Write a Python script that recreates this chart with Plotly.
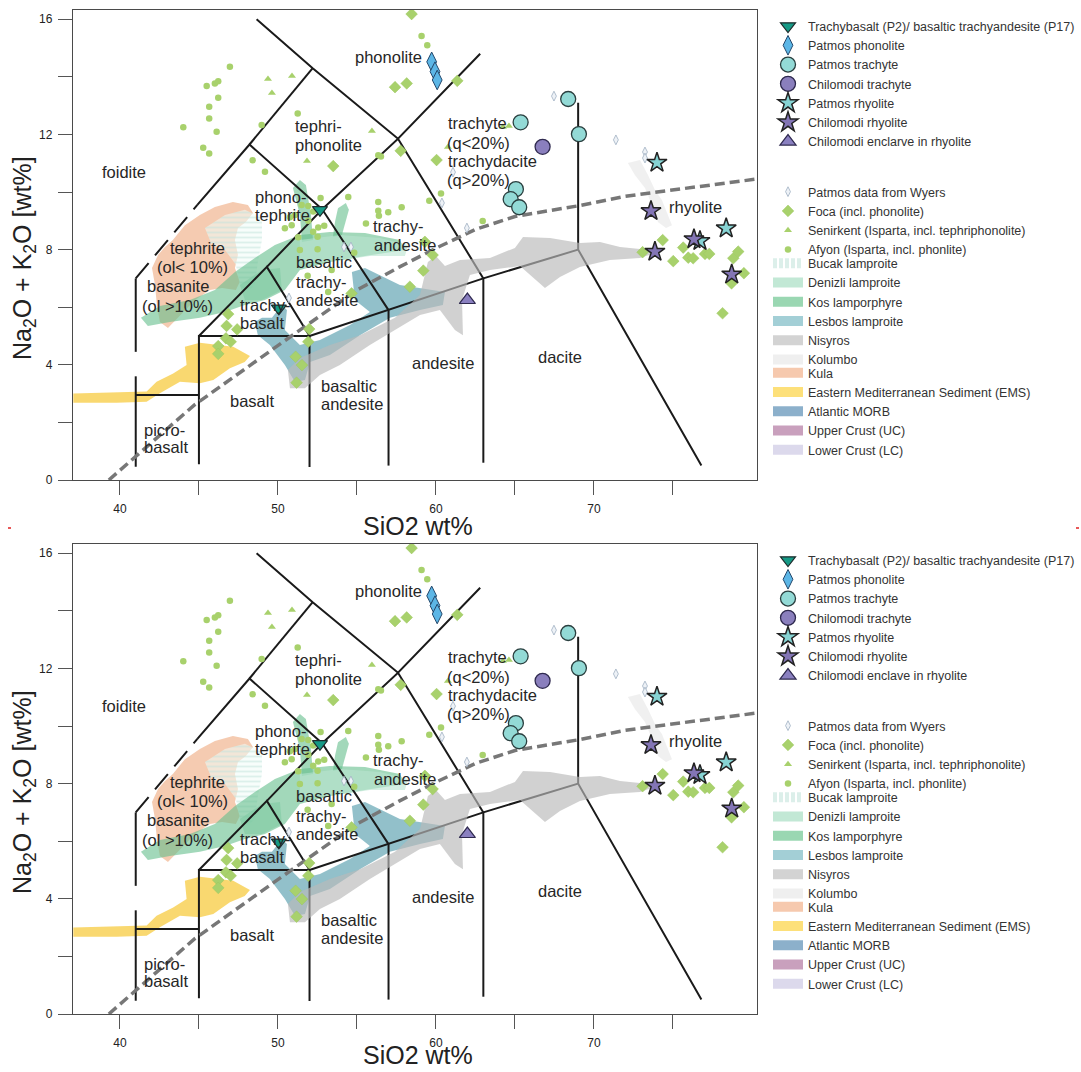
import plotly.graph_objects as go

FIG_W, FIG_H = 1081, 1072
FONT = "Liberation Sans, Arial, sans-serif"

# ---------------- samples (SiO2 wt%, Na2O+K2O wt%) ----------------
p2_si = [52.66, 50.06]
p2_alk = [9.38, 5.96]
pat_phon_si = [59.73, 59.94, 60.08]
pat_phon_alk = [14.52, 14.18, 13.89]
pat_trach_si = [65.36, 68.37, 69.05, 65.06, 64.73, 65.27]
pat_trach_alk = [12.42, 13.23, 12.01, 10.10, 9.75, 9.47]
chil_trach_si = [66.75]
chil_trach_alk = [11.57]
pat_rhy_si = [73.99, 78.37, 76.71]
pat_rhy_alk = [11.02, 8.74, 8.30]
chil_rhy_si = [73.61, 76.33, 73.86, 78.72]
chil_rhy_alk = [9.34, 8.36, 7.93, 7.14]
encl_si = [61.99]
encl_alk = [6.25]

# ---------------- literature data ----------------
wyers_si = [67.47, 71.39, 73.23, 73.23, 60.38, 61.08, 61.96, 54.18, 54.62, 50.70]
wyers_alk = [13.33, 11.81, 11.39, 11.18, 9.62, 10.69, 8.75, 8.09, 8.09, 6.32]
foca_si = [58.46, 57.41, 58.15, 61.35, 53.50, 57.77, 60.04, 59.30, 59.79, 59.20, 58.35,
           46.85, 46.75, 47.42, 46.71, 47.01, 46.22, 46.22, 51.98, 51.92, 51.12, 51.52,
           51.18, 54.66, 74.35, 73.08, 75.65, 75.97, 76.28, 75.02, 77.03, 77.30, 78.82,
           79.13, 79.49, 78.71, 78.14]
foca_alk = [16.18, 13.64, 13.77, 13.86, 10.90, 11.43, 11.11, 8.27, 7.81, 7.27, 6.71,
            5.76, 5.35, 5.23, 4.92, 4.80, 4.65, 4.38, 5.24, 4.80, 4.28, 3.99,
            3.38, 6.48, 8.33, 7.91, 8.07, 7.72, 7.70, 7.60, 7.85, 7.85, 7.70,
            7.93, 7.18, 6.83, 5.79]
seni_si = [49.37, 50.89, 49.62, 55.95, 51.84, 64.24, 64.62, 60.76]
seni_alk = [13.92, 14.03, 13.44, 12.12, 11.08, 12.26, 12.29, 11.56]
afyon_si = [46.96, 45.49, 46.01, 46.22, 46.22, 45.65, 45.65, 46.12, 44.01, 45.27, 45.65,
            48.97, 51.25, 48.40, 49.18, 52.70, 54.45, 56.35, 56.35, 56.98, 56.35, 56.52,
            51.50, 51.92, 52.23, 51.08, 50.76, 51.92, 50.87, 50.44, 52.55, 52.93, 52.51,
            51.28, 51.39, 52.51, 54.83, 51.88, 53.18, 53.40, 56.39, 57.83, 55.57, 59.58,
            60.32, 52.23, 62.96, 59.09, 59.45]
afyon_alk = [14.35, 13.68, 13.77, 13.85, 13.27, 12.96, 12.55, 12.09, 12.25, 11.54, 11.34,
             12.33, 12.73, 11.10, 10.70, 9.79, 9.83, 9.65, 9.35, 9.30, 11.28, 11.23,
             9.55, 9.51, 9.32, 9.20, 9.12, 9.00, 8.85, 8.74, 8.77, 8.83, 8.45,
             8.43, 7.99, 8.01, 7.89, 7.09, 6.53, 7.29, 9.18, 9.47, 8.91, 9.70,
             9.95, 8.62, 8.99, 15.42, 15.10]

# ---------------- comparison fields (outlines) ----------------
ems_si = [37.05, 38.73, 40.84, 41.69, 42.32, 43.37, 44.22, 44.11, 45.06, 47.17, 48.23,
          47.90, 46.96, 45.91, 45.06, 43.80, 42.53, 41.69, 39.79, 37.05]
ems_alk = [3.00, 3.03, 3.06, 3.07, 3.41, 3.70, 3.99, 4.63, 4.77, 4.63, 4.31,
           4.10, 3.88, 3.47, 3.36, 3.41, 3.01, 2.72, 2.68, 2.68]
kula_si = [43.35, 44.11, 45.06, 46.01, 47.15, 48.10, 48.42, 47.97, 47.47, 47.28, 47.47,
           47.28, 47.59, 47.34, 46.46, 45.70, 44.75, 43.80, 43.04, 42.53, 42.34, 42.22,
           42.03, 42.41, 42.85]
kula_alk = [8.33, 8.85, 9.20, 9.48, 9.65, 9.55, 9.27, 8.96, 8.75, 8.33, 7.81,
            7.36, 6.88, 6.60, 6.67, 6.60, 6.25, 5.73, 5.28, 5.49, 6.08, 6.77,
            7.36, 7.81, 8.09]
bucak_si = [45.38, 46.65, 47.91, 48.99, 48.99, 48.73, 48.54, 48.10, 47.59, 47.34, 46.65, 45.82]
bucak_alk = [8.75, 9.20, 9.38, 9.10, 8.33, 7.57, 6.77, 6.53, 6.77, 7.47, 7.99, 8.16]
deniz1_si = [51.39, 53.92, 56.46, 58.23, 58.04, 55.82, 53.29, 51.39]
deniz1_alk = [8.33, 8.51, 8.40, 8.16, 7.78, 7.78, 7.57, 7.57]
deniz2_si = [47.59, 48.99, 50.13, 50.25, 48.99, 47.91]
deniz2_alk = [6.77, 7.29, 7.36, 6.60, 6.25, 6.25]
kos1_si = [41.33, 42.53, 44.43, 46.01, 47.28, 48.54, 49.81, 51.39, 53.29, 55.51, 57.72,
           58.04, 55.51, 53.29, 51.39, 50.44, 49.18, 47.91, 46.65, 45.06, 43.16, 41.77]
kos1_alk = [5.63, 6.04, 6.25, 6.60, 7.22, 7.71, 8.16, 8.51, 8.61, 8.58, 8.33,
            7.99, 7.78, 7.57, 7.29, 6.60, 6.25, 6.08, 5.83, 5.63, 5.49, 5.35]
kos2_si = [50.95, 51.39, 51.77, 52.09, 52.22, 51.52, 51.39]
kos2_alk = [10.14, 10.42, 10.24, 9.20, 8.33, 8.26, 9.20]
kos3_si = [53.80, 54.30, 54.49, 54.05, 53.48, 53.61]
kos3_alk = [9.44, 9.62, 9.38, 8.51, 8.44, 8.96]
lesbos_si = [48.54, 48.99, 49.62, 50.25, 50.57, 50.44, 51.39, 52.66, 54.56, 55.82, 54.87,
             54.68, 55.51, 57.72, 60.57, 60.44, 58.99, 57.09, 55.19, 53.29, 52.03, 51.71,
             51.08, 50.44, 49.49, 48.73]
lesbos_alk = [5.49, 5.63, 5.63, 6.08, 5.90, 5.21, 4.69, 4.86, 5.38, 5.83, 6.25,
              7.22, 7.36, 6.77, 6.53, 6.08, 5.90, 5.63, 5.03, 4.34, 4.10, 3.47,
              3.40, 3.99, 4.69, 5.03]
nisyros_si = [50.76, 50.63, 51.39, 53.29, 55.19, 57.41, 58.99, 59.49, 60.00, 60.57, 61.52,
              63.42, 65.00, 65.51, 67.22, 69.11, 70.38, 71.65, 72.91, 73.86, 72.91, 71.01,
              69.11, 67.85, 66.90, 66.46, 65.32, 63.42, 62.15, 61.65, 61.71, 61.20, 60.25,
              58.99, 57.41, 55.82, 53.92, 52.66, 51.71]
nisyros_alk = [3.19, 3.82, 4.24, 4.69, 5.03, 5.63, 6.42, 7.57, 7.78, 7.43, 7.64,
               7.71, 8.06, 8.44, 8.40, 8.23, 8.26, 8.09, 8.02, 7.88, 7.71, 7.64,
               7.40, 7.05, 6.67, 6.88, 7.43, 7.29, 7.12, 6.25, 5.03, 5.21, 5.90,
               5.73, 5.21, 4.69, 3.99, 3.65, 3.19]
kolumbo_si = [72.15, 72.91, 73.42, 73.86, 74.30, 74.68, 74.94, 74.56, 74.05, 73.67, 73.23, 72.59]
kolumbo_alk = [11.01, 11.11, 10.59, 10.07, 9.72, 9.20, 8.85, 8.75, 8.96, 9.55, 10.14, 10.59]

# ---------------- TAS classification grid ----------------
tas_si = [41, 41, None, 41, 41, None, 41, 45, None,
          45, 45, 52, 52, None, 45, 49.3, 52, None,
          52, 57, 63, 69, 76.8, None, 57, 57, None, 63, 63, None, 69, 69, None,
          49.3, 52.8, 57, None, 52.8, 57.6, 63, None,
          44.9, 48.2, 52.8, None, 48.2, 52.2, None,
          48.65, 52.2, 57.6, 62.8]
tas_alk = [0.46, 3.6, None, 4.45, 7.0, None, 2.95, 2.95, None,
           0.55, 5, 5, 0.45, None, 5, 7.4, 5, None,
           5, 5.9, 7, 8, 0.5, None, 5.9, 0.5, None, 7, 0.6, None, 8, 13.1, None,
           7.4, 9.4, 5.9, None, 9.4, 11.85, 7, None,
           9.55, 11.65, 9.4, None, 11.65, 14.3, None,
           16.0, 14.3, 11.85, 14.8]
foid_si = [41, 44.9]
foid_alk = [7.0, 9.55]
# alkaline / subalkaline divide
div_si = [39.3, 44.7, 49.9, 55.0, 57.7, 60.0, 62.5, 65.0, 69.0, 72.0, 74.0, 76.0, 80.3]
div_alk = [0.0, 2.6, 4.63, 6.6, 7.4, 8.05, 8.7, 9.15, 9.52, 9.85, 10.0, 10.15, 10.45]

# field names: (text, SiO2 at left edge, alkali at line centre)
field_labels = [
    ("foidite", 38.73, 10.70), ("phonolite", 54.77, 14.70),
    ("tephri-", 50.97, 12.29), ("phonolite", 50.97, 11.63),
    ("phono-", 48.44, 9.84), ("tephrite", 48.44, 9.20),
    ("tephrite", 43.06, 8.05), ("(ol< 10%)", 42.22, 7.41),
    ("basanite", 41.58, 6.74), ("(ol >10%)", 41.27, 6.04),
    ("trachy-", 47.45, 6.08), ("basalt", 47.49, 5.44),
    ("basaltic", 51.03, 7.58), ("trachy-", 51.03, 6.89), ("andesite", 51.03, 6.25),
    ("trachy-", 55.89, 8.82), ("andesite", 55.93, 8.16),
    ("trachyte", 60.65, 12.41), ("(q<20%)", 60.60, 11.71),
    ("trachydacite", 60.65, 11.09), ("(q>20%)", 60.60, 10.42),
    ("basalt", 46.85, 2.75), ("picro-", 41.37, 1.74), ("basalt", 41.37, 1.14),
    ("basaltic", 52.61, 3.26), ("andesite", 52.61, 2.63),
    ("andesite", 58.35, 4.05), ("dacite", 66.33, 4.26), ("rhyolite", 74.60, 9.47),
]

X_RANGE = [37.03, 80.32]
Y_RANGE = [0, 16.32]
X_TICKS = [40, 45, 50, 55, 60, 65, 70, 75]
X_TICKTEXT = ["40", " ", "50", " ", "60", " ", "70", " "]
Y_TICKS = [0, 2, 4, 6, 8, 10, 12, 14, 16]
Y_TICKTEXT = ["0", " ", "4", " ", "8", " ", "12", " ", "16"]

GREEN = "#a8d16c"

fig = go.Figure()


def add_panel(xa, ya, legs, enclave_name):
    common = dict(xaxis=xa, yaxis=ya, hoverinfo="skip")
    # filled comparison fields
    fills = [
        (ems_si, ems_alk, "rgba(248,208,80,0.82)", None),
        (kula_si, kula_alk, "rgba(240,178,140,0.68)", None),
        (bucak_si, bucak_alk, "rgba(240,250,247,0.55)", "bucak"),
        (deniz2_si, deniz2_alk, "rgba(170,222,198,0.6)", None),
        (kos1_si, kos1_alk, "rgba(100,190,140,0.6)", None),
        (kos2_si, kos2_alk, "rgba(100,190,140,0.6)", None),
        (kos3_si, kos3_alk, "rgba(100,190,140,0.6)", None),
        (deniz1_si, deniz1_alk, "rgba(185,228,208,0.6)", None),
        (lesbos_si, lesbos_alk, "rgba(90,160,175,0.66)", None),
    ]
    for xs, ys, col, kind in fills:
        kw = {}
        if kind == "bucak":
            kw["fillpattern"] = dict(shape="-", fgcolor="#c2e4dc", size=5, solidity=0.35)
        fig.add_trace(go.Scatter(x=xs, y=ys, fill="toself", fillcolor=col, mode="lines",
                                 line=dict(width=0), showlegend=False, **kw, **common))
    # classification lines
    fig.add_trace(go.Scatter(x=tas_si, y=tas_alk, mode="lines",
                             line=dict(color="#1a1a1a", width=2), showlegend=False, **common))
    fig.add_trace(go.Scatter(x=foid_si, y=foid_alk, mode="lines",
                             line=dict(color="#1a1a1a", width=2, dash="20px,10px"),
                             showlegend=False, **common))
    # fields drawn over the grid
    fig.add_trace(go.Scatter(x=nisyros_si, y=nisyros_alk, fill="toself",
                             fillcolor="rgba(185,185,185,0.66)", mode="lines",
                             line=dict(width=0), showlegend=False, **common))
    fig.add_trace(go.Scatter(x=kolumbo_si, y=kolumbo_alk, fill="toself",
                             fillcolor="rgba(233,233,233,0.7)", mode="lines",
                             line=dict(width=0), showlegend=False, **common))
    fig.add_trace(go.Scatter(x=div_si, y=div_alk, mode="lines",
                             line=dict(color="#777777", width=3.5, dash="10px,5px"),
                             showlegend=False, **common))

    # literature data
    lit = [
        ("Patmos data from Wyers", wyers_si, wyers_alk,
         dict(symbol="diamond-tall", size=7, color="#eef2f7", line=dict(color="#9fb0c2", width=0.8))),
        ("Foca (incl. phonolite)", foca_si, foca_alk,
         dict(symbol="diamond", size=9, color=GREEN, line=dict(color="#9cc65f", width=0.5))),
        ("Senirkent (Isparta, incl. tephriphonolite)", seni_si, seni_alk,
         dict(symbol="triangle-up", size=7, color=GREEN, line=dict(width=0))),
        ("Afyon (Isparta, incl. phonlite)", afyon_si, afyon_alk,
         dict(symbol="circle", size=6.5, color=GREEN, line=dict(width=0))),
    ]
    for name, xs, ys, mk in lit:
        fig.add_trace(go.Scatter(x=xs, y=ys, mode="markers", marker=mk, name=name,
                                 legend=legs[1], **common))

    # studied samples
    samples = [
        ("Trachybasalt (P2)/ basaltic trachyandesite (P17)", p2_si, p2_alk,
         dict(symbol="triangle-down", size=13, color="#159a86", line=dict(color="#1d2b2b", width=1.2))),
        ("Patmos phonolite", pat_phon_si, pat_phon_alk,
         dict(symbol="diamond-tall", size=14, color="#5cb6e6", line=dict(color="#23476b", width=1))),
        ("Patmos trachyte", pat_trach_si, pat_trach_alk,
         dict(symbol="circle", size=15, color="#93dad6", line=dict(color="#2a3f3f", width=1.3))),
        ("Chilomodi trachyte", chil_trach_si, chil_trach_alk,
         dict(symbol="circle", size=15, color="#8a7fbd", line=dict(color="#2f2a4f", width=1.3))),
        ("Patmos rhyolite", pat_rhy_si, pat_rhy_alk,
         dict(symbol="star", size=15, color="#86d3d3", line=dict(color="#222222", width=1.5))),
        ("Chilomodi rhyolite", chil_rhy_si, chil_rhy_alk,
         dict(symbol="star", size=15, color="#8375b5", line=dict(color="#222222", width=1.5))),
        (enclave_name, encl_si, encl_alk,
         dict(symbol="triangle-up", size=14, color="#8a80c0", line=dict(color="#2f2a4f", width=1.2))),
    ]
    for name, xs, ys, mk in samples:
        fig.add_trace(go.Scatter(x=xs, y=ys, mode="markers", marker=mk, name=name,
                                 legend=legs[0], **common))

    # legend keys for the comparison fields
    keys = [
        ("Bucak lamproite", "#dcefea", "4px,2px", legs[2]),
        ("Denizli lamproite", "#c2e8d5", None, legs[2]),
        ("Kos lamporphyre", "#9ad7b2", None, legs[2]),
        ("Lesbos lamproite", "#a3cfd6", None, legs[2]),
        ("Nisyros", "#d3d3d3", None, legs[2]),
        ("Kolumbo", "#efefef", None, legs[2]),
        ("Kula", "#f6c9ae", None, legs[3]),
        ("Eastern Mediterranean Sediment (EMS)", "#fde07a", None, legs[3]),
        ("Atlantic MORB", "#8cb0cb", None, legs[3]),
        ("Upper Crust (UC)", "#c9a0bd", None, legs[3]),
        ("Lower Crust (LC)", "#dcd9ec", None, legs[3]),
    ]
    for name, col, dash, lg in keys:
        ln = dict(color=col, width=10)
        if dash:
            ln["dash"] = dash
        fig.add_trace(go.Scatter(x=[None], y=[None], mode="lines", line=ln, name=name,
                                 legend=lg, **common))


add_panel("x", "y", ["legend", "legend2", "legend3", "legend4"],
          "Chilomodi enclarve in rhyolite")
add_panel("x2", "y2", ["legend5", "legend6", "legend7", "legend8"],
          "Chilomodi enclave in rhyolite")


def py(px):
    return 1 - px / FIG_H


axis_common = dict(showgrid=False, zeroline=False, showline=True, mirror=True,
                   linecolor="#4a4a4a", linewidth=1.3, ticks="outside", ticklen=14,
                   tickcolor="#555555", tickwidth=1, ticklabelstandoff=3,
                   tickfont=dict(size=12, color="#222222", family=FONT))
xdom = [73 / FIG_W, 757 / FIG_W]
layout = dict(
    width=FIG_W, height=FIG_H,
    margin=dict(l=0, r=0, t=0, b=0, autoexpand=False),
    paper_bgcolor="white", plot_bgcolor="white",
    font=dict(family=FONT, color="#333333"),
    xaxis=dict(domain=xdom, range=X_RANGE, tickvals=X_TICKS, ticktext=X_TICKTEXT,
               anchor="y", **axis_common),
    yaxis=dict(domain=[py(480), py(10)], range=Y_RANGE, tickvals=Y_TICKS,
               ticktext=Y_TICKTEXT, anchor="x", **axis_common),
    xaxis2=dict(domain=xdom, range=X_RANGE, tickvals=X_TICKS, ticktext=X_TICKTEXT,
                anchor="y2", **axis_common),
    yaxis2=dict(domain=[py(1014), py(544)], range=Y_RANGE, tickvals=Y_TICKS,
                ticktext=Y_TICKTEXT, anchor="x2", **axis_common),
    showlegend=True,
)

# legend blocks: first-row centre (px) and number of rows
LEG_SPACING_REF = 18.15
LEG_ITEM_H = 19.25
blocks = [(29.3, 7), (193.3, 4), (266.0, 6), (375.0, 5)]
for panel, off in ((0, 0), (1, 534)):
    for i, (first, n) in enumerate(blocks):
        idx = panel * 4 + i + 1
        key = "legend" if idx == 1 else f"legend{idx}"
        c = first + off - (n - 1) * (LEG_ITEM_H - LEG_SPACING_REF) / 2
        layout[key] = dict(x=768 / FIG_W, xanchor="left", y=py(c - 14.6), yanchor="top",
                           bgcolor="rgba(0,0,0,0)", borderwidth=0, itemsizing="trace",
                           traceorder="normal", tracegroupgap=0,
                           font=dict(size=12.5, color="#333333", family=FONT))

fig.update_layout(**layout)

annotations = []
for xr, yr in (("x", "y"), ("x2", "y2")):
    for txt, sx, ay in field_labels:
        annotations.append(dict(text=txt, x=sx, y=ay, xref=xr, yref=yr, xanchor="left",
                                yanchor="middle", showarrow=False,
                                font=dict(size=16.5, color="#262626", family=FONT)))
for title_y, off in ((526, 0), (1055, 534)):
    annotations.append(dict(text="SiO2 wt%", x=418 / FIG_W, y=py(title_y), xref="paper",
                            yref="paper", showarrow=False, xanchor="center", yanchor="middle",
                            font=dict(size=25, color="#222222", family=FONT)))
    annotations.append(dict(text="Na<sub>2</sub>O + K<sub>2</sub>O [wt%]", x=24 / FIG_W,
                            y=py(258 + off), xref="paper", yref="paper", showarrow=False,
                            textangle=-90, xanchor="center", yanchor="middle",
                            font=dict(size=25, color="#222222", family=FONT)))
fig.update_layout(annotations=annotations)

# small red crop marks between the panels
for x0 in (8, 1076):
    fig.add_shape(type="line", xref="paper", yref="paper", x0=x0 / FIG_W, x1=(x0 + 3) / FIG_W,
                  y0=py(528), y1=py(528), line=dict(color="#e02020", width=1.5))

fig.write_html("out.html")
